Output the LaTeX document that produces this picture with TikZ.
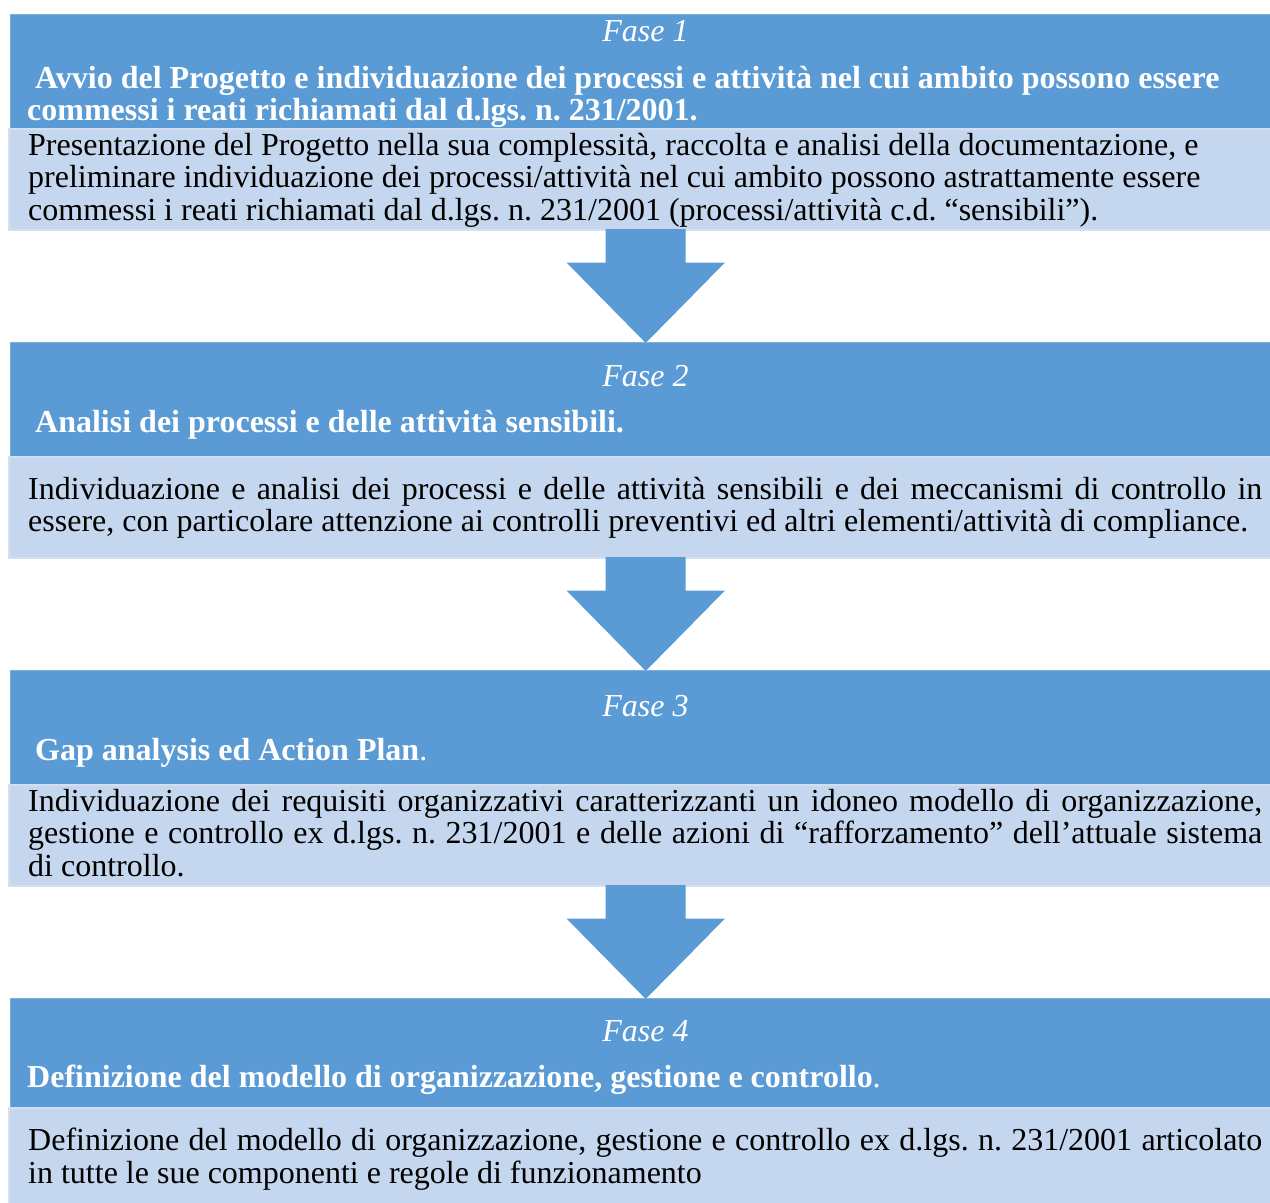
\documentclass[tikz,border=0pt]{standalone}
\usepackage{fontspec}
\setmainfont{Liberation Serif}
\usetikzlibrary{calc}
\definecolor{hdrblue}{HTML}{5B9BD5}
\definecolor{lightblue}{HTML}{C5D7EE}
\definecolor{lightedge}{HTML}{D3E0F1}
\newcommand{\justline}[1]{\makebox[1234pt][s]{#1}}
\frenchspacing
\begin{document}
\frenchspacing
\begin{tikzpicture}[x=1pt,y=-1pt,
  hdr/.style={fill=hdrblue, draw=hdrblue!80!white, line width=0.8pt, inner sep=0pt, anchor=north west, minimum width=1260pt},
  lightbox/.style={fill=lightblue, draw=lightedge, line width=1.5pt, inner sep=0pt, anchor=north west, minimum width=1262pt},
  fasetxt/.style={text=white, font=\fontsize{32}{32.5}\selectfont\itshape, inner sep=0pt, anchor=base},
  titletxt/.style={text=white, font=\fontsize{32}{32.5}\selectfont\bfseries, inner sep=0pt, anchor=base west},
  bodytxt/.style={text=black, font=\fontsize{32}{32.5}\selectfont, inner sep=0pt, anchor=base west},
  downarrow/.pic={\fill[hdrblue] (-40,0) -- (40,0) -- (40,33.5) -- (79.3,33.5) -- (0,114) -- (-79.2,33.5) -- (-40,33.5) -- cycle;}
]
\useasboundingbox (0,0) rectangle (1270,1203);

% ---------- Fase 1
\node[hdr, minimum height=114pt] (h1) at (10,14) {};
\node[lightbox, minimum height=101pt] (b1) at (8,128) {};
\node[fasetxt] (f1) at (645.5,41) {Fase 1};
\node[titletxt] (t1a) at (27,88) {\ Avvio del Progetto e individuazione dei processi e attività nel cui ambito possono essere};
\node[titletxt] (t1b) at (27,120) {commessi i reati richiamati dal d.lgs. n. 231/2001.};
\node[bodytxt] (p1a) at (28,155) {Presentazione del Progetto nella sua complessità, raccolta e analisi della documentazione, e};
\node[bodytxt] (p1b) at (28,187.5) {preliminare individuazione dei processi/attività nel cui ambito possono astrattamente essere};
\node[bodytxt] (p1c) at (28,220) {commessi i reati richiamati dal d.lgs. n. 231/2001 (processi/attività c.d. “sensibili”).};

\coordinate (a1) at (645.7,229);
\pic at (a1) {downarrow};

% ---------- Fase 2
\node[hdr, minimum height=114pt] (h2) at (10,342) {};
\node[lightbox, minimum height=101pt] (b2) at (8,456) {};
\node[fasetxt] (f2) at (645.5,386) {Fase 2};
\node[titletxt] (t2a) at (27,432) {\ Analisi dei processi e delle attività sensibili.};
\node[bodytxt] (p2a) at (28,499) {\justline{Individuazione e analisi dei processi e delle attività sensibili e dei meccanismi di controllo in}};
\node[bodytxt] (p2b) at (28,531.5) {essere, con particolare attenzione ai controlli preventivi ed altri elementi/attività di compliance.};

\coordinate (a2) at (645.7,557);
\pic at (a2) {downarrow};

% ---------- Fase 3
\node[hdr, minimum height=114pt] (h3) at (10,670) {};
\node[lightbox, minimum height=101pt] (b3) at (8,784) {};
\node[fasetxt] (f3) at (645.5,716) {Fase 3};
\node[titletxt] (t3a) at (27,760) {\ Gap analysis ed Action Plan{\mdseries .}};
\node[bodytxt] (p3a) at (28,811) {\justline{Individuazione dei requisiti organizzativi caratterizzanti un idoneo modello di organizzazione,}};
\node[bodytxt] (p3b) at (28,843.5) {\justline{gestione e controllo ex d.lgs. n. 231/2001 e delle azioni di “rafforzamento” dell’attuale sistema}};
\node[bodytxt] (p3c) at (28,876) {di controllo.};

\coordinate (a3) at (645.7,885);
\pic at (a3) {downarrow};

% ---------- Fase 4
\node[hdr, minimum height=110pt] (h4) at (10,998) {};
\node[lightbox, minimum height=97pt] (b4) at (8,1107) {};
\node[fasetxt] (f4) at (645.5,1041) {Fase 4};
\node[titletxt] (t4a) at (27,1087) {Definizione del modello di organizzazione, gestione e controllo{\mdseries .}};
\node[bodytxt] (p4a) at (28,1150) {\justline{Definizione del modello di organizzazione, gestione e controllo ex d.lgs. n. 231/2001 articolato}};
\node[bodytxt] (p4b) at (28,1183) {in tutte le sue componenti e regole di funzionamento};
\end{tikzpicture}
\end{document}
